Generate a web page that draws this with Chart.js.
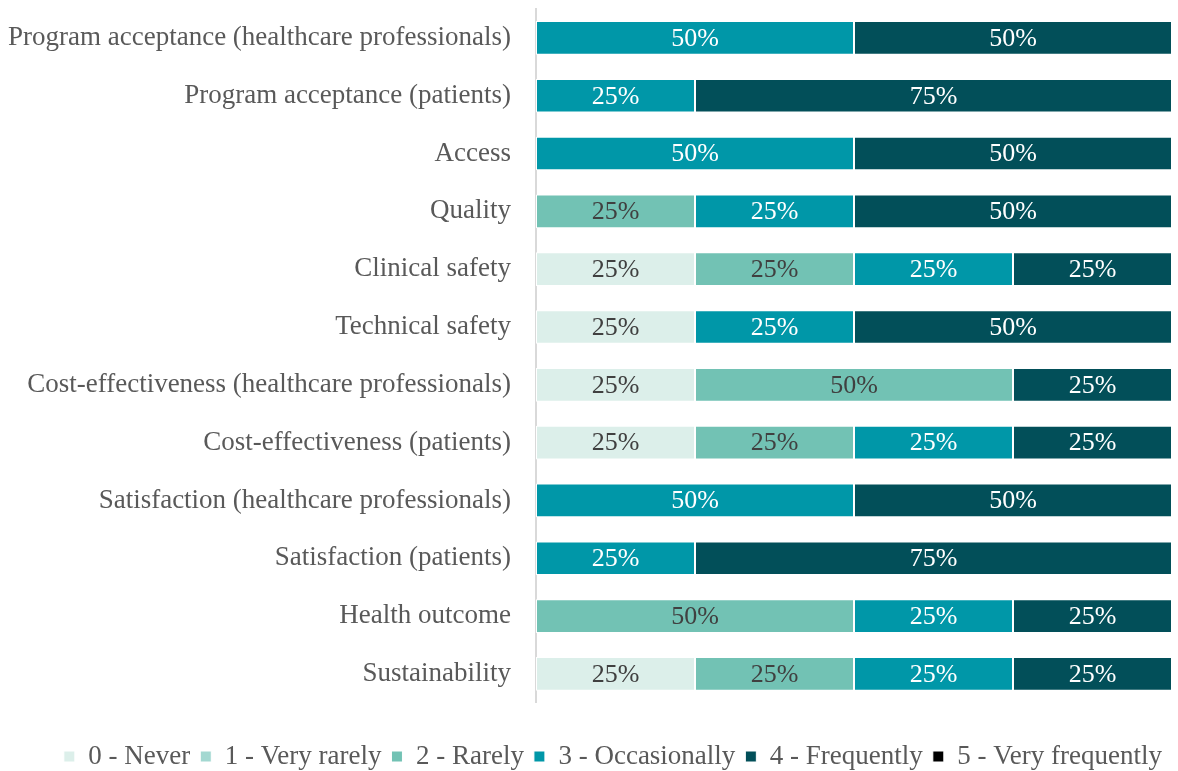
<!DOCTYPE html>
<html>
<head>
<meta charset="utf-8">
<script src="https://cdn.jsdelivr.net/npm/chart.js@4"></script>
<style>
  html, body { margin: 0; padding: 0; background: #fff; }
  #wrap { width: 1178px; height: 771px; position: relative; }
</style>
</head>
<body>
<div id="wrap"><canvas id="chart"></canvas></div>
<script>
// カテゴリ
var categories = [
  'Program acceptance (healthcare professionals)',
  'Program acceptance (patients)',
  'Access',
  'Quality',
  'Clinical safety',
  'Technical safety',
  'Cost-effectiveness (healthcare professionals)',
  'Cost-effectiveness (patients)',
  'Satisfaction (healthcare professionals)',
  'Satisfaction (patients)',
  'Health outcome',
  'Sustainability'
];

// 系列ごとの値 (%)
var never          = [0, 0, 0, 0, 25, 25, 25, 25, 0, 0, 0, 25];
var veryRarely     = [0, 0, 0, 0, 0, 0, 0, 0, 0, 0, 0, 0];
var rarely         = [0, 0, 0, 25, 25, 0, 50, 25, 0, 0, 50, 25];
var occasionally   = [50, 25, 50, 25, 25, 25, 0, 25, 50, 25, 25, 25];
var frequently     = [50, 75, 50, 50, 25, 50, 25, 25, 50, 75, 25, 25];
var veryFrequently = [0, 0, 0, 0, 0, 0, 0, 0, 0, 0, 0, 0];

var seriesNames = ['0 - Never', '1 - Very rarely', '2 - Rarely', '3 - Occasionally', '4 - Frequently', '5 - Very frequently'];
var seriesData = [never, veryRarely, rarely, occasionally, frequently, veryFrequently];
var seriesColors = ['#dcefea', '#a3d8d1', '#72c2b4', '#0097a8', '#024f59', '#000000'];
var labelColors = ['#404040', '#404040', '#404040', '#ffffff', '#ffffff', '#ffffff'];

var FONT = '"Liberation Serif", "DejaVu Serif", serif';

// バー中央に % を描くプラグイン
var barLabels = {
  id: 'barLabels',
  afterDatasetsDraw: function(chart) {
    var ctx = chart.ctx;
    ctx.save();
    ctx.font = '26px ' + FONT;
    ctx.textAlign = 'center';
    ctx.textBaseline = 'middle';
    chart.data.datasets.forEach(function(ds, i) {
      var meta = chart.getDatasetMeta(i);
      meta.data.forEach(function(el, j) {
        var v = ds.data[j];
        if (!v) return;
        ctx.fillStyle = labelColors[i];
        ctx.fillText(v + '%', (el.x + el.base) / 2, el.y + 1);
      });
    });
    ctx.restore();
  }
};

var datasets = seriesNames.map(function(name, i) {
  return {
    label: name,
    data: seriesData[i],
    backgroundColor: seriesColors[i],
    borderColor: '#ffffff',
    borderWidth: 1,
    borderSkipped: false,
    categoryPercentage: 0.6,
    barPercentage: 0.97
  };
});

new Chart(document.getElementById('chart').getContext('2d'), {
  type: 'bar',
  data: { labels: categories, datasets: datasets },
  plugins: [barLabels],
  options: {
    indexAxis: 'y',
    responsive: true,
    maintainAspectRatio: false,
    animation: false,
    layout: { padding: { top: 9, right: 6, left: 8, bottom: -9 } },
    scales: {
      x: {
        stacked: true,
        min: 0,
        max: 100,
        display: false
      },
      y: {
        stacked: true,
        grid: { display: false, drawTicks: true, tickLength: 25 },
        border: { display: true, color: '#d9d9d9', width: 2 },
        ticks: {
          color: '#595959',
          padding: 0,
          font: { family: FONT, size: 27 }
        },
        afterFit: function(scale) {
          scale.paddingTop = 0;
          scale.paddingBottom = 0;
        }
      }
    },
    plugins: {
      legend: {
        position: 'bottom',
        align: 'end',
        title: { display: true, text: '', padding: { top: 29, bottom: 0 }, font: { size: 1 } },
        labels: {
          boxWidth: 11,
          boxHeight: 11,
          padding: 10,
          color: '#595959',
          font: { family: FONT, size: 27 }
        }
      },
      tooltip: { enabled: false }
    }
  }
});
</script>
</body>
</html>
